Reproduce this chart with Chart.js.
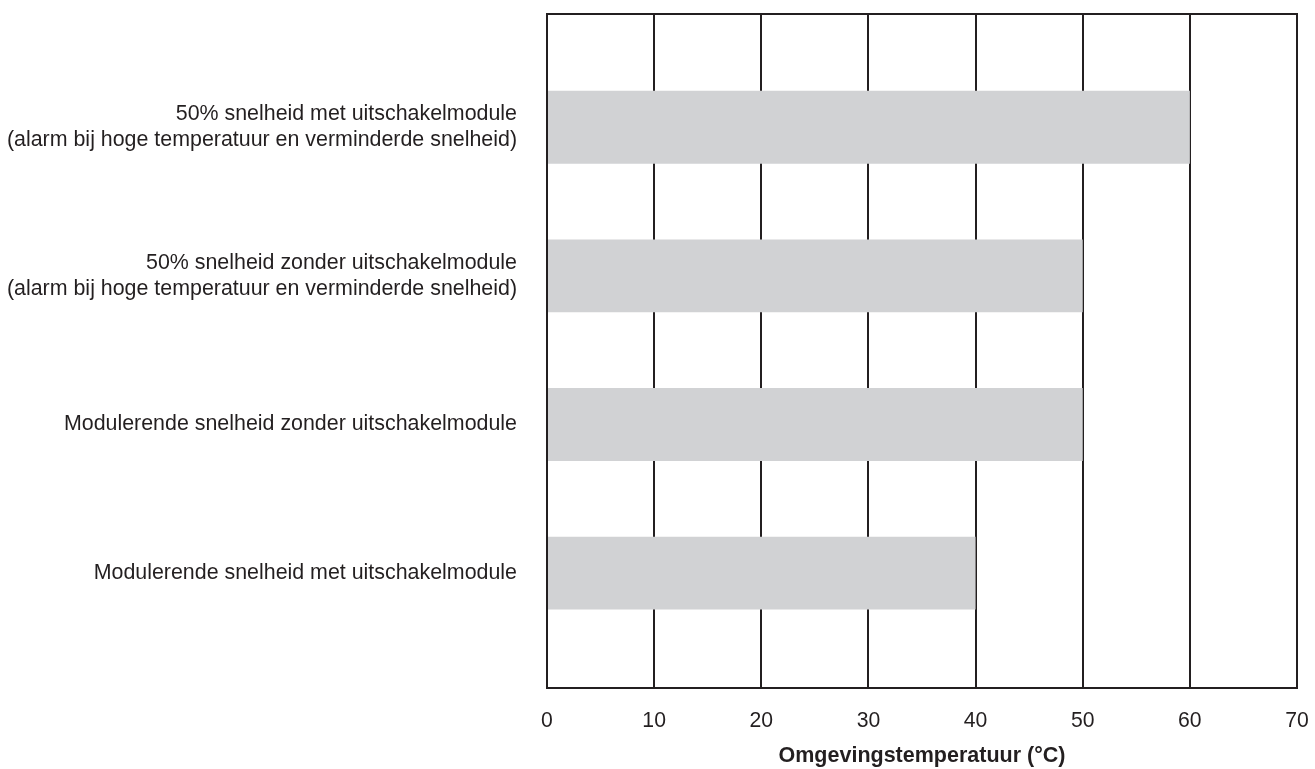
<!DOCTYPE html>
<html>
<head>
<meta charset="utf-8">
<script src="https://cdn.jsdelivr.net/npm/chart.js@4"></script>
<style>
html,body{margin:0;padding:0;background:#fff;}
#wrap{width:1315px;height:769px;}
</style>
</head>
<body>
<div id="wrap"><canvas id="c" width="1315" height="769"></canvas></div>
<script>
const categories = [
  ["50% snelheid met uitschakelmodule", "(alarm bij hoge temperatuur en verminderde snelheid)"],
  ["50% snelheid zonder uitschakelmodule", "(alarm bij hoge temperatuur en verminderde snelheid)"],
  "Modulerende snelheid zonder uitschakelmodule",
  "Modulerende snelheid met uitschakelmodule"
];
const maxTemperature = [60, 50, 50, 40];
const xTicks = [0, 10, 20, 30, 40, 50, 60, 70];
const xTitle = "Omgevingstemperatuur (°C)";

const ink = "#231f20";
const fontFamily = "'Liberation Sans', Arial, Helvetica, sans-serif";

const points = maxTemperature.map((v, i) => ({ x: v, y: i }));

new Chart(document.getElementById("c"), {
  type: "bar",
  data: {
    datasets: [{
      data: points,
      backgroundColor: "#d1d2d4",
      borderWidth: 0,
      barPercentage: 0.49,
      categoryPercentage: 1
    }]
  },
  options: {
    indexAxis: "y",
    responsive: false,
    animation: false,
    layout: { padding: { left: 0, right: 18, top: 14, bottom: 0 } },
    plugins: { legend: { display: false }, tooltip: { enabled: false } },
    scales: {
      x: {
        type: "linear",
        position: "bottom",
        offset: false,
        min: xTicks[0],
        max: xTicks[xTicks.length - 1],
        z: 1,
        afterBuildTicks: (s) => { s.ticks = xTicks.map(v => ({ value: v })); },
        afterFit: (s) => { s.height = 81; s.paddingLeft = 0; s.paddingRight = 0; },
        grid: { color: ink, lineWidth: 2, drawTicks: false, offset: false },
        border: { color: ink, width: 2 },
        ticks: { color: ink, padding: 20, font: { family: fontFamily, size: 21.2 } },
        title: {
          display: true,
          text: xTitle,
          color: ink,
          font: { family: fontFamily, size: 21.5, weight: "bold" },
          padding: { top: 10, bottom: 0 }
        }
      },
      x2: {
        type: "linear",
        position: "top",
        offset: false,
        min: xTicks[0],
        max: xTicks[xTicks.length - 1],
        z: 1,
        afterFit: (s) => { s.height = 0; s.paddingLeft = 0; s.paddingRight = 0; },
        grid: { display: false, drawTicks: false },
        border: { display: true, color: ink, width: 2 },
        ticks: { display: false }
      },
      y: {
        type: "linear",
        reverse: true,
        offset: false,
        min: -0.762,
        max: 3.773,
        z: 1,
        afterBuildTicks: (s) => { s.ticks = categories.map((c, i) => ({ value: i })); },
        afterFit: (s) => { s.width = 547; s.paddingTop = 0; s.paddingBottom = 0; },
        grid: { display: false, drawTicks: false, offset: false },
        border: { color: ink, width: 2 },
        ticks: {
          color: ink,
          padding: 30,
          font: { family: fontFamily, size: 21.4 },
          callback: (v) => categories[v]
        }
      }
    }
  }
});
</script>
</body>
</html>
